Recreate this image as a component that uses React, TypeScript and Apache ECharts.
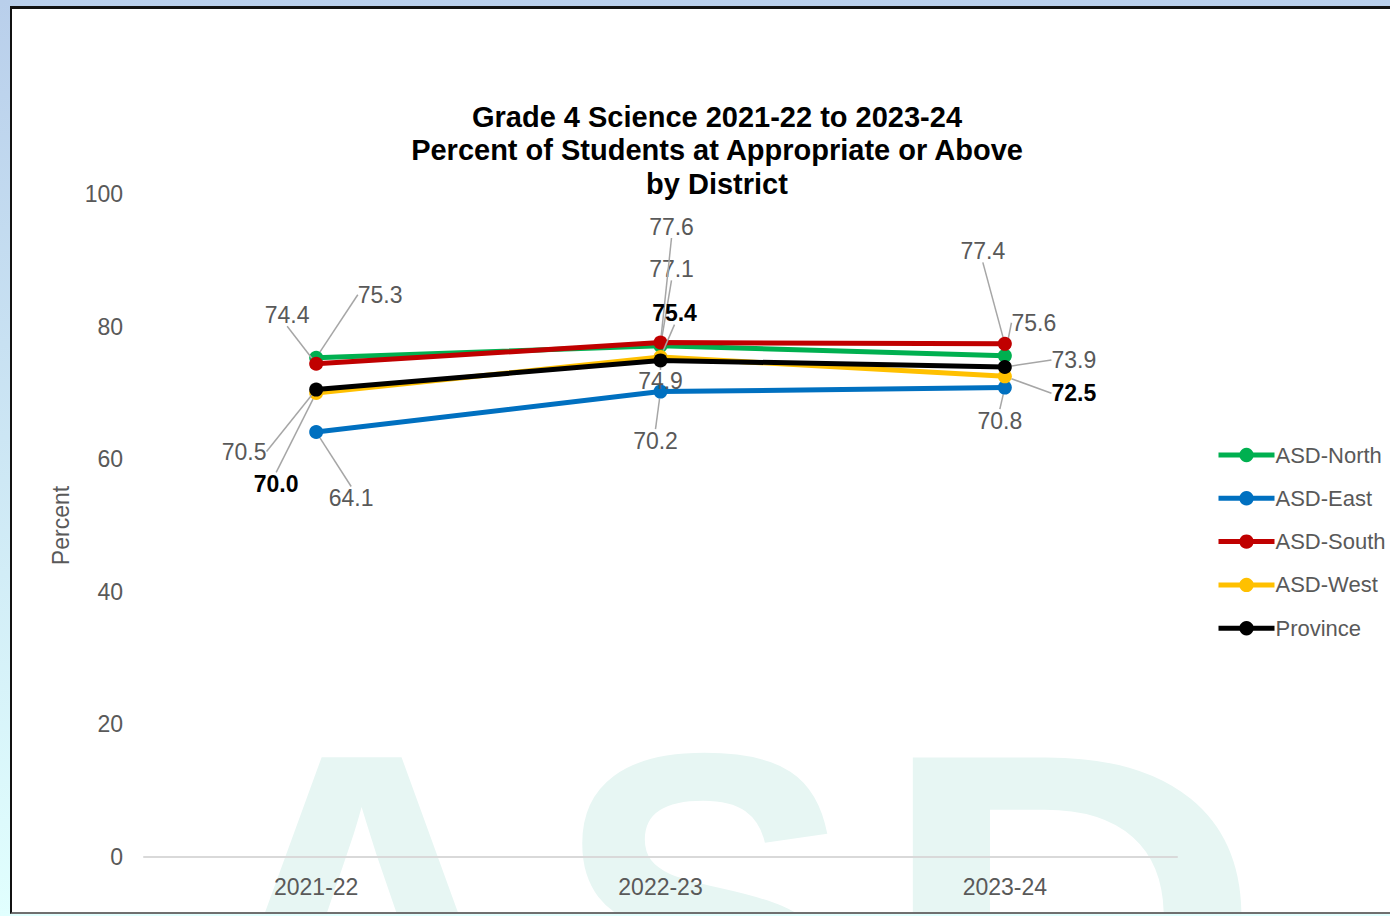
import React, { useEffect, useRef } from "react";
import * as echarts from "echarts";

const categories = ["2021-22", "2022-23", "2023-24"];
const seriesNames = ["ASD-North", "ASD-East", "ASD-South", "ASD-West", "Province"];
const northValues = [75.3, 77.1, 75.6];
const eastValues = [64.1, 70.2, 70.8];
const southValues = [74.4, 77.6, 77.4];
const westValues = [70.0, 75.4, 72.5];
const provinceValues = [70.5, 74.9, 73.9];
const yTicks = { min: 0, max: 100, interval: 20 };
const titleLines = [
  "Grade 4 Science 2021-22 to 2023-24",
  "Percent of Students at Appropriate or Above",
  "by District",
];
const yAxisName = "Percent";
const watermarkLetters = ["A", "S", "D"];

// label placement (pixel offsets from each point), styling only
const labelOffsets: number[][][] = [
  [[64, -63], [11, -77], [29, -33]],
  [[35, 66], [-5, 49], [-5, 33]],
  [[-29, -49], [11, -116], [-22, -93]],
  [[-40, 91], [14, -44], [69, 17]],
  [[-72, 62], [0, 21], [69, -7]],
];
// watermark letter placement: [x, y, scaleX]
const watermarkPlacement = [
  [192, 683, 1],
  [555, 683, 0.95],
  [877, 683, 1.14],
];
const colors = ["#00b050", "#0070c0", "#c00000", "#ffc000", "#000000"];
const FONT = '"Liberation Sans", Arial, sans-serif';

export default function App() {
  const ref = useRef<HTMLDivElement>(null);
  useEffect(() => {
    if (!ref.current) return;
    const chart = echarts.init(ref.current, null, { renderer: "svg", width: 1390, height: 916 });
    const values = [northValues, eastValues, southValues, westValues, provinceValues];
    const series = seriesNames.map((name, si) => ({
      name,
      type: "line",
      data: values[si],
      symbol: "circle",
      symbolSize: 14,
      lineStyle: { width: 5, color: colors[si] },
      itemStyle: { color: colors[si] },
      z: 2 + si,
      label: {
        show: true,
        position: "inside",
        formatter: (p: any) => Number(p.value).toFixed(1),
        fontFamily: FONT,
        fontSize: 23,
        color: si === 3 ? "#000000" : "#595959",
        fontWeight: si === 3 ? "bold" : "normal",
      },
      labelLine: { show: true, lineStyle: { color: "#a6a6a6", width: 1.5 } },
      labelLayout: (params: any) => {
        const o = labelOffsets[si][params.dataIndex];
        return { dx: o[0], dy: o[1] };
      },
    }));
    chart.setOption({
      animation: false,
      backgroundColor: "transparent",
      textStyle: { fontFamily: FONT },
      title: {
        text: titleLines.join("\n"),
        left: 712,
        textAlign: "center",
        top: 95,
        textStyle: {
          fontFamily: FONT,
          fontSize: 29,
          fontWeight: "bold",
          color: "#000",
          lineHeight: 33.5,
        },
      },
      graphic: watermarkLetters.map((ch, i) => ({
        type: "text",
        z: 0,
        silent: true,
        x: watermarkPlacement[i][0],
        y: watermarkPlacement[i][1],
        scaleX: watermarkPlacement[i][2],
        style: {
          text: ch,
          font: `bold 470px ${FONT}`,
          fill: "#e7f6f3",
          verticalAlign: "top",
        },
      })),
      legend: {
        orient: "vertical",
        left: 1211,
        top: 438,
        itemWidth: 56,
        itemHeight: 18,
        itemGap: 19.3,
        data: seriesNames,
        lineStyle: { width: 5 },
        textStyle: { fontFamily: FONT, fontSize: 22, color: "#595959", lineHeight: 24, padding: [0, 0, 0, -4] },
      },
      grid: { left: 144, right: 213, top: 194, bottom: 59 },
      xAxis: {
        type: "category",
        data: categories,
        axisLine: { lineStyle: { color: "#d9d9d9", width: 2 } },
        axisTick: { show: false },
        axisLabel: { fontFamily: FONT, fontSize: 23, color: "#595959", margin: 18 },
      },
      yAxis: {
        type: "value",
        min: yTicks.min,
        max: yTicks.max,
        interval: yTicks.interval,
        name: yAxisName,
        nameLocation: "middle",
        nameGap: 72,
        nameTextStyle: { fontFamily: FONT, fontSize: 23, color: "#595959" },
        axisLine: { show: false },
        axisTick: { show: false },
        splitLine: { show: false },
        axisLabel: { fontFamily: FONT, fontSize: 23, color: "#595959", margin: 21 },
      },
      series,
    });
    return () => chart.dispose();
  }, []);
  return (
    <div
      style={{
        position: "fixed",
        left: 0,
        top: 0,
        width: 1390,
        height: 916,
        overflow: "hidden",
        background: "linear-gradient(180deg, #b9cfeb 0%, #e1fffe 100%)",
      }}
    >
      <div
        style={{
          position: "absolute",
          left: 10,
          top: 6,
          width: 1400,
          height: 903,
          background: "#ffffff",
          borderLeft: "2px solid #111",
          borderTop: "3px solid #111",
          borderBottom: "2px solid #6f6f6f",
          overflow: "hidden",
        }}
      >
        <div ref={ref} style={{ position: "absolute", left: -12, top: -9, width: 1390, height: 916 }} />
      </div>
    </div>
  );
}
